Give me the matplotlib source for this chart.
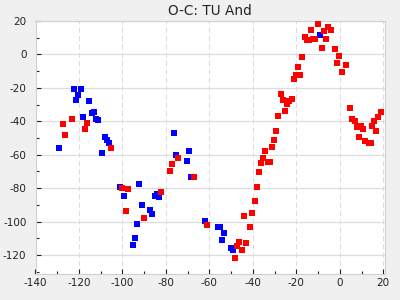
import matplotlib
matplotlib.use("Agg")
import matplotlib.pyplot as plt
from matplotlib.ticker import MultipleLocator

blue_x = [-129.2, -122.3, -119.05, -120.4, -121.4, -115.4, -118.1, -114.0, -113.1, -112.1,
          -111.2, -108.0, -107.1, -106.2, -109.4, -101.1, -92.3, -99.3, -85.1, -84.2,
          -83.3, -91.0, -87.3, -86.4, -93.3, -94.2, -95.1, -76.2, -75.3, -69.3,
          -70.2, -68.4, -62.0, -56.0, -55.1, -53.2, -54.1, -50.0, -49.1, -9.0]
blue_y = [-56.1, -20.8, -20.8, -24.5, -27.5, -28.1, -37.5, -35.1, -34.7, -38.8,
          -39.4, -49.6, -51.4, -52.8, -59.1, -79.4, -77.6, -84.8, -84.8, -83.6,
          -85.4, -90.1, -93.1, -95.5, -101.5, -109.8, -114.0, -47.2, -60.3, -57.9,
          -63.9, -73.4, -99.7, -103.3, -103.3, -106.9, -111.0, -115.8, -117.0, 11.9]

red_x = [-127.3, -123.2, -116.3, -117.2, -126.4, -105.2, -100.2, -97.4, -82.2, -98.3,
         -90.0, -74.4, -77.2, -78.1, -67.0, -61.0, -46.3, -43.1, -47.2, -44.9,
         -48.2, -44.0, -41.2, -40.3, -38.9, -38.0, -37.1, -36.2, -35.3, -34.3,
         -33.0, -32.0, -31.1, -30.2, -29.3, -28.4, -25.1, -27.0, -26.0, -24.2,
         -23.3, -21.9, -21.0, -20.1, -18.2, -19.1, -17.3, -15.9, -15.0, -14.1,
         -12.2, -11.3, -13.2, -9.9, -8.1, -7.2, -6.3, -5.3, -3.9, -2.1,
         -0.3, -1.2, 3.0, 1.1, 4.8, 5.7, 7.1, 8.0, 9.9, 10.8,
         8.9, 11.7, 13.5, 14.5, 14.9, 15.8, 16.8, 17.7, 19.1]
red_y = [-41.8, -38.8, -41.2, -44.8, -48.4, -56.0, -80.0, -80.6, -82.4, -93.7,
         -97.9, -62.1, -65.7, -69.9, -73.4, -102.1, -112.2, -112.8, -114.6, -117.0,
         -121.8, -96.7, -103.3, -94.9, -87.8, -79.4, -70.5, -65.1, -62.1, -57.9,
         -64.5, -64.5, -55.5, -51.4, -46.0, -37.0, -34.1, -23.9, -27.5, -29.9,
         -28.1, -26.9, -14.4, -12.0, -12.0, -7.8, -1.8, 10.7, 8.9, 8.9,
         9.5, 9.5, 14.9, 18.4, 4.1, 14.3, 9.5, 16.7, 14.9, 3.5,
         -1.2, -5.4, -6.6, -10.8, -32.3, -38.8, -40.0, -43.6, -43.0, -44.8,
         -49.6, -52.0, -53.0, -53.0, -43.0, -40.0, -46.0, -37.6, -34.7]

x_ticks = [-140, -120, -100, -80, -60, -40, -20, 0, 20]
y_ticks = [-120, -100, -80, -60, -40, -20, 0, 20]
title = "O-C: TU And"

plt.rcParams['axes.unicode_minus'] = False
plt.rcParams['font.family'] = ['DejaVu Sans']

fig = plt.figure(figsize=(4, 3), dpi=100, facecolor='#f0f0f0')
ax = fig.add_axes([35.5 / 400, 1 - 274.3 / 300, (385 - 35.5) / 400, (274.3 - 21) / 300])
ax.set_facecolor('white')

ax.plot(blue_x, blue_y, linestyle='none', marker='s', markersize=3.8,
        markerfacecolor='#0000ff', markeredgewidth=0, zorder=3)
ax.plot(red_x, red_y, linestyle='none', marker='s', markersize=3.8,
        markerfacecolor='#ff0000', markeredgewidth=0, zorder=4)

ax.set_xlim(-140, 20.8)
ax.set_ylim(-131.5, 20)
ax.set_xticks(x_ticks)
ax.set_yticks(y_ticks)
ax.set_xticklabels([str(v) for v in x_ticks])
ax.set_yticklabels([str(v) for v in y_ticks])
ax.xaxis.set_minor_locator(MultipleLocator(10))
ax.yaxis.set_minor_locator(MultipleLocator(10))

ax.grid(axis='x', which='major', color='#dddddd', linestyle=(0, (5, 3)), linewidth=0.75, zorder=0)
ax.grid(axis='y', which='major', color='#dddddd', linestyle='-', linewidth=0.9, zorder=0)
ax.set_axisbelow(True)

ax.tick_params(axis='both', which='major', direction='in', length=3.4, width=0.8,
               color='#222222', labelsize=7.5, labelcolor='#222222')
ax.tick_params(axis='both', which='minor', direction='in', length=2.0, width=0.8,
               color='#222222')
ax.tick_params(axis='y', which='major', pad=6.5)
ax.tick_params(axis='x', which='major', pad=3)
ax.tick_params(top=False, right=False, which='both')

for s in ax.spines.values():
    s.set_color('#d0d0d0')
    s.set_linewidth(0.8)

ax.set_title(title, fontsize=9.8, color='#222222', pad=4)

fig.savefig('out.png', dpi=100, facecolor=fig.get_facecolor())
